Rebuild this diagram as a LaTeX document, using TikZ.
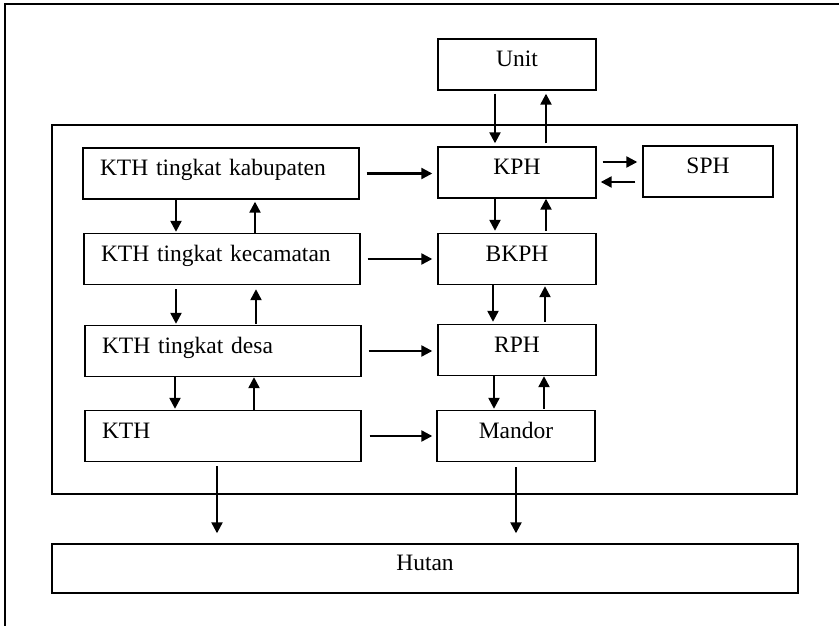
\documentclass[tikz,border=0pt]{standalone}
\usepackage{fontspec}
\setmainfont{Liberation Serif}
\usetikzlibrary{arrows.meta,calc}
\begin{document}
\begin{tikzpicture}[x=1pt,y=-1pt,
  box/.style={draw,line width=1.4pt,minimum height=51pt,inner sep=0pt,
    font=\fontsize{23.5}{27}\selectfont,text height=0.7em,text depth=0.3em},
  lbox/.style={box,inner xsep=17pt,text width=242pt,align=left},
  rbox/.style={box,minimum width=158pt},
  arr/.style={line width=2.3pt,-{Triangle[length=11pt,width=11pt]}},
  frame/.style={line width=1.5pt}]
\useasboundingbox (0,0) rectangle (839,626);
% partial outer frame
\draw[frame] (5,626) -- (5,4) -- (839,4);
% inner frame
\node[draw,line width=1.5pt,minimum width=745pt,minimum height=369pt,inner sep=0pt] (inner) at (424.5,309.5) {};
% left column
\node[lbox] (kab) at (221,173.5) {KTH tingkat kabupaten};
\node[lbox] (kec) at (222,259) {KTH tingkat kecamatan};
\node[lbox] (desa) at (223,351) {KTH tingkat desa};
\node[lbox] (kth) at (223,436) {KTH};
% right column
\node[rbox] (unit) at (517,64.5) {Unit};
\node[rbox] (kph) at (517,172.5) {KPH};
\node[box,minimum width=130pt] (sph) at (708,171.5) {SPH};
\node[rbox] (bkph) at (517,259) {BKPH};
\node[rbox] (rph) at (517,350) {RPH};
\node[rbox] (mandor) at (516,436) {Mandor};
% bottom
\node[box,minimum width=746pt,minimum height=49pt] (hutan) at (425,568.5) {Hutan};
% right vertical arrows
\draw[arr,shorten <=3pt,shorten >=3pt] ([xshift=-22pt]unit.south) -- ([xshift=-22pt]unit.south |- kph.north);
\draw[arr,shorten <=3pt,shorten >=3pt] ([xshift=29pt]kph.north) -- ([xshift=29pt]kph.north |- unit.south);
\draw[arr,shorten <=0pt,shorten >=2pt] ([xshift=-22pt]kph.south) -- ([xshift=-22pt]kph.south |- bkph.north);
\draw[arr,shorten <=2pt,shorten >=0pt] ([xshift=29pt]bkph.north) -- ([xshift=29pt]bkph.north |- kph.south);
\draw[arr,shorten <=0pt,shorten >=2pt] ([xshift=-24pt]bkph.south) -- ([xshift=-24pt]bkph.south |- rph.north);
\draw[arr,shorten <=2pt,shorten >=1pt] ([xshift=28pt]rph.north) -- ([xshift=28pt]rph.north |- bkph.south);
\draw[arr,shorten <=0pt,shorten >=1pt] ([xshift=-23pt]rph.south) -- ([xshift=-23pt]rph.south |- mandor.north);
\draw[arr,shorten <=1pt,shorten >=0pt] ([xshift=28pt]mandor.north) -- ([xshift=28pt]mandor.north |- rph.south);
% left vertical arrows
\draw[arr,shorten <=0pt,shorten >=1pt] ([xshift=-45pt]kab.south) -- ([xshift=-45pt]kab.south |- kec.north);
\draw[arr,shorten <=0pt,shorten >=2pt] ([xshift=33pt]kec.north) -- ([xshift=33pt]kec.north |- kab.south);
\draw[arr,shorten <=4pt,shorten >=1pt] ([xshift=-46pt]kec.south) -- ([xshift=-46pt]kec.south |- desa.north);
\draw[arr,shorten <=1pt,shorten >=4pt] ([xshift=33pt]desa.north) -- ([xshift=33pt]desa.north |- kec.south);
\draw[arr,shorten <=0pt,shorten >=1pt] ([xshift=-48pt]desa.south) -- ([xshift=-48pt]desa.south |- kth.north);
\draw[arr,shorten <=0pt,shorten >=0pt] ([xshift=31pt]kth.north) -- ([xshift=31pt]kth.north |- desa.south);
% horizontal arrows
\draw[arr,shorten <=7pt,shorten >=5pt] (kab.east) -- (kab.east -| kph.west);
\draw[arr,shorten <=7pt,shorten >=5pt] (kec.east) -- (kec.east -| bkph.west);
\draw[arr,shorten <=7pt,shorten >=5pt] (desa.east) -- (desa.east -| rph.west);
\draw[arr,shorten <=8pt,shorten >=4pt] (kth.east) -- (kth.east -| mandor.west);
\draw[arr,shorten <=6pt,shorten >=5pt] ([yshift=10.5pt]kph.east) -- ([yshift=10.5pt]kph.east -| sph.west);
\draw[arr,shorten <=7pt,shorten >=4pt] ([yshift=-10.5pt]sph.west) -- ([yshift=-10.5pt]sph.west -| kph.east);
% to Hutan
\draw[arr,shorten <=4pt,shorten >=10pt] ([xshift=-6pt]kth.south) -- ([xshift=-6pt]kth.south |- hutan.north);
\draw[arr,shorten <=5pt,shorten >=10pt] (mandor.south) -- (mandor.south |- hutan.north);
\end{tikzpicture}
\end{document}
